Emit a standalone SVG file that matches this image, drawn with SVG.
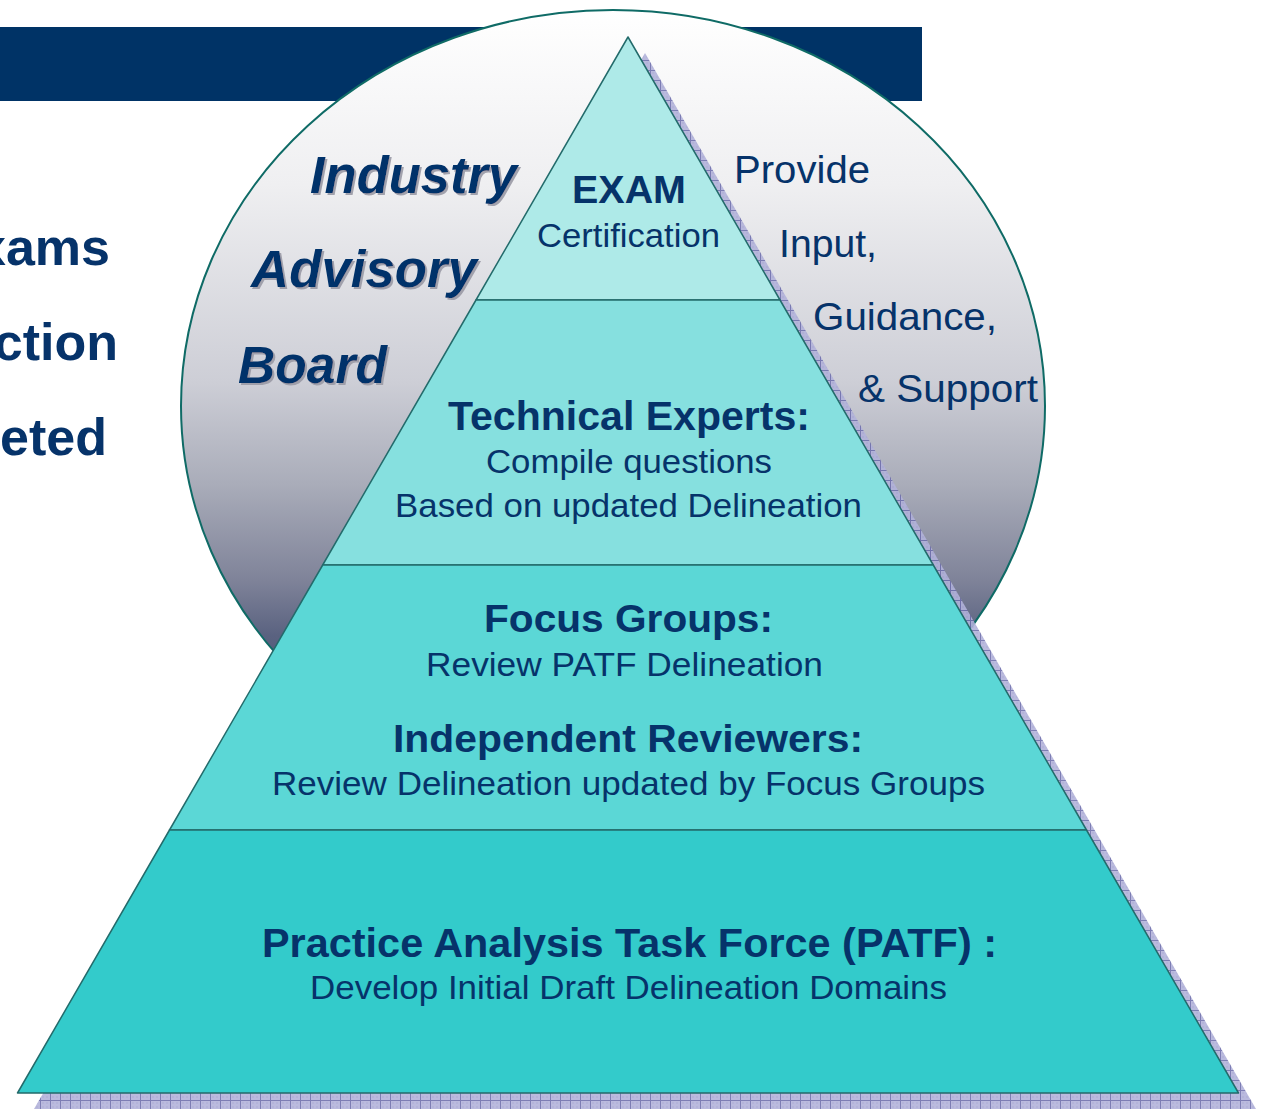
<svg xmlns="http://www.w3.org/2000/svg" width="1266" height="1109" viewBox="0 0 1266 1109">
  <style>
    .navy { fill: #06336a; font-family: "Liberation Sans", Arial, sans-serif; }
    .b { font-weight: bold; }
    .it { font-weight: bold; font-style: italic; font-size: 51px; filter: url(#tshadow); }
    .reg { font-size: 33px; }
    .mid { text-anchor: middle; }
    .layer { stroke: #236b6b; stroke-width: 1.5; stroke-linejoin: round; }
  </style>
  <defs>
    <linearGradient id="ellGrad" x1="0" y1="0" x2="0" y2="1">
      <stop offset="0" stop-color="#ffffff"/>
      <stop offset="0.22" stop-color="#efeff1"/>
      <stop offset="0.47" stop-color="#cdced6"/>
      <stop offset="0.6" stop-color="#a9acb9"/>
      <stop offset="0.72" stop-color="#7f8399"/>
      <stop offset="0.79" stop-color="#5a6280"/>
      <stop offset="1" stop-color="#2e3860"/>
    </linearGradient>
    <pattern id="hatch" width="10" height="10" patternUnits="userSpaceOnUse">
      <rect width="10" height="10" fill="#b2b2da"/>
      <path d="M0 0.5H10M0.5 0V10" stroke="#6e6eac" stroke-width="1"/>
      <path d="M2.5 2.5h1v1h-1zM6.5 6.5h1v1h-1zM6.5 2.5h1v1h-1zM2.5 6.5h1v1h-1z" fill="#9898c8"/>
    </pattern>
    <filter id="tshadow" x="-10%" y="-20%" width="130%" height="150%">
      <feDropShadow dx="2" dy="2" stdDeviation="0.6" flood-color="#9a9aa6" flood-opacity="0.9"/>
    </filter>
  </defs>

  <g id="title-bar">
    <rect x="0" y="27" width="922" height="74" fill="#003366"/>
  </g>

  <g id="left-text" class="navy b" font-size="52" text-anchor="end">
    <text x="110" y="265">xams</text>
    <text x="118" y="360">ction</text>
    <text x="107" y="455">eted</text>
  </g>

  <g id="advisory-board">
    <ellipse cx="613" cy="406" rx="432" ry="396" fill="url(#ellGrad)" stroke="#0f6b66" stroke-width="2"/>
    <text class="navy it" x="310" y="193" textLength="207" lengthAdjust="spacingAndGlyphs">Industry</text>
    <text class="navy it" x="251" y="287" textLength="226" lengthAdjust="spacingAndGlyphs">Advisory</text>
    <text class="navy it" x="238" y="383" textLength="149" lengthAdjust="spacingAndGlyphs">Board</text>
  </g>

  <g id="support-text" class="navy" font-size="39">
    <text x="734" y="183" textLength="136" lengthAdjust="spacingAndGlyphs">Provide</text>
    <text x="779" y="257" textLength="98" lengthAdjust="spacingAndGlyphs">Input,</text>
    <text x="813" y="330" textLength="184" lengthAdjust="spacingAndGlyphs">Guidance,</text>
    <text x="858" y="402" textLength="180" lengthAdjust="spacingAndGlyphs">&amp; Support</text>
  </g>

  <g id="pyramid-shadow">
    <polygon points="645,53 1256,1109 34,1109" fill="url(#hatch)" opacity="0.9"/>
  </g>

  <g id="layer-exam">
    <polygon class="layer" points="628,37 780,300 476,300" fill="#aeeae8"/>
    <text class="navy b mid" x="629" y="203" font-size="38" textLength="114" lengthAdjust="spacingAndGlyphs">EXAM</text>
    <text class="navy reg mid" x="628.5" y="247" textLength="183" lengthAdjust="spacingAndGlyphs">Certification</text>
  </g>

  <g id="layer-technical">
    <polygon class="layer" points="476,300 780,300 933.3,565 322.7,565" fill="#86e0df"/>
    <text class="navy b mid" x="629" y="430" font-size="40" textLength="362" lengthAdjust="spacingAndGlyphs">Technical Experts:</text>
    <text class="navy reg mid" x="629" y="473" textLength="286" lengthAdjust="spacingAndGlyphs">Compile questions</text>
    <text class="navy reg mid" x="628.5" y="517" textLength="467" lengthAdjust="spacingAndGlyphs">Based on updated Delineation</text>
  </g>

  <g id="layer-review">
    <polygon class="layer" points="322.7,565 933.3,565 1086.5,830 169.5,830" fill="#5bd7d6"/>
    <text class="navy b mid" x="628.5" y="632" font-size="38" textLength="289" lengthAdjust="spacingAndGlyphs">Focus Groups:</text>
    <text class="navy reg mid" x="624.5" y="676" textLength="397" lengthAdjust="spacingAndGlyphs">Review PATF Delineation</text>
    <text class="navy b mid" x="628" y="752" font-size="38" textLength="470" lengthAdjust="spacingAndGlyphs">Independent Reviewers:</text>
    <text class="navy reg mid" x="628.5" y="795" textLength="713" lengthAdjust="spacingAndGlyphs">Review Delineation updated by Focus Groups</text>
  </g>

  <g id="layer-patf">
    <polygon class="layer" points="169.5,830 1086.5,830 1238.5,1093 17.5,1093" fill="#33cbcb"/>
    <text class="navy b mid" x="629.5" y="957" font-size="40" textLength="735" lengthAdjust="spacingAndGlyphs">Practice Analysis Task Force (PATF) :</text>
    <text class="navy reg mid" x="628.5" y="999" textLength="637" lengthAdjust="spacingAndGlyphs">Develop Initial Draft Delineation Domains</text>
  </g>
</svg>
